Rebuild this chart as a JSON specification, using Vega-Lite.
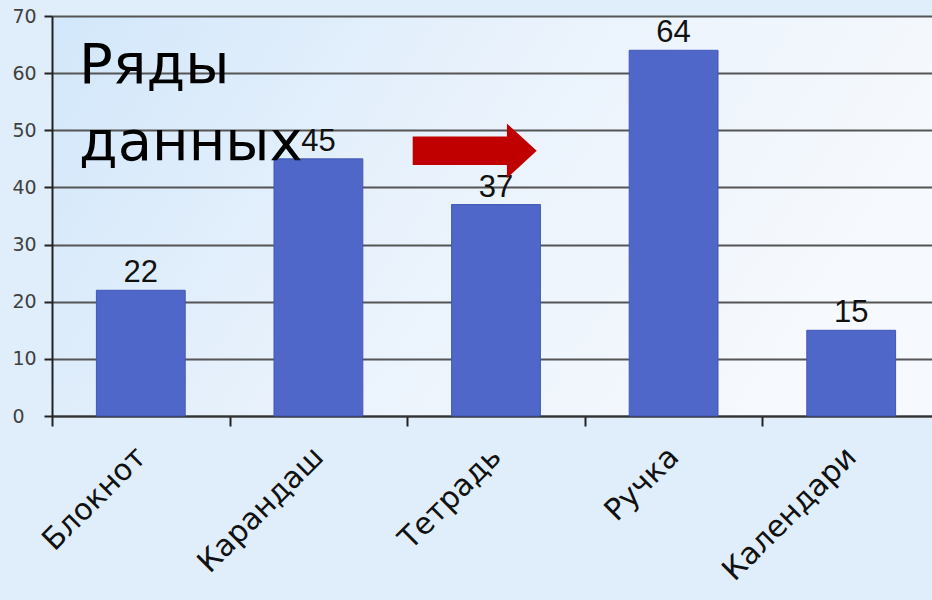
{
  "$schema": "https://vega.github.io/schema/vega-lite/v6.json",
  "width": 888,
  "height": 400,
  "autosize": {"type": "none"},
  "padding": {"left": 52, "top": 16, "right": 0, "bottom": 184},
  "background": "#e0eefb",
  "config": {
    "font": "DejaVu Sans",
    "view": {
      "stroke": null,
      "fill": {"gradient": "linear", "x1": 0, "y1": 0, "x2": 1, "y2": 0.3,
        "stops": [{"offset": 0, "color": "#d2e7fa"}, {"offset": 0.5, "color": "#e9f2fc"}, {"offset": 1, "color": "#f6f9fd"}]}
    }
  },
  "datasets": {
    "bars": [
      {"cat": "Блокнот", "val": 22},
      {"cat": "Карандаш", "val": 45},
      {"cat": "Тетрадь", "val": 37},
      {"cat": "Ручка", "val": 64},
      {"cat": "Календари", "val": 15}
    ]
  },
  "layer": [
    {
      "data": {"name": "bars"},
      "mark": {"type": "bar", "fill": "#4f67c8", "stroke": "#4257b4", "strokeWidth": 1, "width": {"band": 0.5}},
      "encoding": {
        "x": {
          "field": "cat", "type": "nominal", "sort": null,
          "scale": {"paddingInner": 0, "paddingOuter": 0},
          "axis": {
            "title": null, "labelAngle": -45, "labelAlign": "right", "labelBaseline": "middle",
            "labelFontSize": 30, "labelColor": "#111111", "labelPadding": 26,
            "tickBand": "extent", "tickSize": 10, "tickColor": "#222222", "tickWidth": 2,
            "domainColor": "#333333", "domainWidth": 2, "grid": false
          }
        },
        "y": {
          "field": "val", "type": "quantitative",
          "scale": {"domain": [0, 70], "nice": false},
          "axis": {
            "title": null, "values": [0, 10, 20, 30, 40, 50, 60, 70],
            "grid": true, "gridColor": "#555555", "gridWidth": 2,
            "domainColor": "#222222", "domainWidth": 2,
            "tickSize": 8, "tickColor": "#222222", "tickWidth": 2,
            "labelAlign": "left", "labelPadding": 32, "labelFontSize": 19,
            "labelColor": "#404040", "labelBaseline": "middle"
          }
        }
      }
    },
    {
      "data": {"name": "bars"},
      "mark": {"type": "text", "font": "Liberation Sans", "fontSize": 31, "color": "#111111", "baseline": "alphabetic", "dy": -8},
      "encoding": {
        "x": {"field": "cat", "type": "nominal", "sort": null},
        "y": {"field": "val", "type": "quantitative"},
        "text": {"field": "val", "type": "quantitative"}
      }
    },
    {
      "data": {"values": [{}]},
      "mark": {"type": "text", "fontSize": 56, "color": "#000000", "align": "left", "baseline": "alphabetic", "dx": 27},
      "encoding": {
        "x": {"datum": "Блокнот", "type": "nominal", "bandPosition": 0},
        "y": {"datum": 58.3, "type": "quantitative"},
        "text": {"value": "Ряды"}
      }
    },
    {
      "data": {"values": [{}]},
      "mark": {"type": "text", "fontSize": 56, "color": "#000000", "align": "left", "baseline": "alphabetic", "dx": 27},
      "encoding": {
        "x": {"datum": "Блокнот", "type": "nominal", "bandPosition": 0},
        "y": {"datum": 44.8, "type": "quantitative"},
        "text": {"value": "данных"}
      }
    },
    {
      "data": {"values": [{}]},
      "mark": {"type": "point", "filled": true, "opacity": 1, "fill": "#c00000", "strokeWidth": 0,
        "shape": "M-1,-0.23L0.52,-0.23L0.52,-0.44L1,0L0.52,0.44L0.52,0.23L-1,0.23Z", "size": 15376},
      "encoding": {
        "x": {"datum": "Тетрадь", "type": "nominal", "bandPosition": 0.38},
        "y": {"datum": 46.4, "type": "quantitative"}
      }
    }
  ]
}
